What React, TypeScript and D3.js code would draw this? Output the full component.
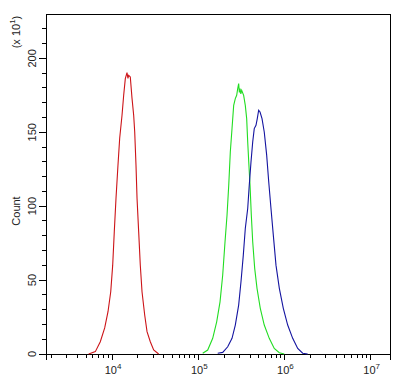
import * as d3 from 'd3';

// intensity / count pairs (count in units of 10)
const redSeries: [number, number][] = [
	[5360, 0], [6400, 1.6], [7310, 8.3], [8220, 17.6], [8980, 28.6], [9660, 42.1],
	[10180, 60.1], [10620, 82.6], [11120, 105.4], [11720, 127.7], [12270, 146],
	[13060, 161.5], [13650, 175], [14260, 186.3], [14920, 190.3], [15300, 186.5],
	[15600, 188.5], [16290, 187.4], [17060, 172.9], [17830, 161.5], [18330, 150.2],
	[18970, 127.7], [19500, 105.4], [20380, 82.6], [21280, 60.1], [22280, 42.1],
	[23930, 26.4], [25470, 15.1], [27800, 8.3], [30410, 2.7], [34750, 0],
];
const greenSeries: [number, number][] = [
	[112700, 0.5], [128800, 2.7], [147200, 10.6], [163700, 21.8], [179000, 35.3],
	[192300, 53.4], [204600, 75.9], [215800, 93.9], [225900, 114.2], [235600, 136.7],
	[246600, 152.5], [257800, 168.2], [269200, 172.8], [279300, 175], [287100, 179.5],
	[294500, 182.9], [300000, 177], [305500, 179.5], [312000, 176], [319300, 178.4],
	[336500, 175], [351600, 168.2], [364800, 159.2], [375000, 143.4], [385500, 129.9],
	[399000, 114.2], [413000, 93.9], [428500, 75.9], [451900, 57.9], [480800, 44.4],
	[524800, 30.9], [583400, 19.6], [666800, 10.6], [762100, 3.8], [872700, 0.9], [995400, 0],
];
const blueSeries: [number, number][] = [
	[168300, 0.5], [192300, 1.1], [219800, 4.9], [246600, 10.6], [269200, 19.6],
	[294500, 33.1], [313300, 48.9], [333400, 66.9], [351600, 84.9], [375000, 98.4],
	[390800, 114.2], [409300, 129.9], [428500, 143.4], [446700, 152.5], [467700, 154.7],
	[484200, 159.2], [502300, 164.9], [521200, 163.7], [549500, 159.2], [583400, 150.2],
	[622300, 134.5], [657700, 116.4], [698200, 98.4], [743000, 80.4], [798000, 60.1],
	[872700, 44.4], [970500, 30.9], [1091000, 19.6], [1247000, 10.6], [1426000, 3.8],
	[1629000, 0.5], [1862000, 0],
];
const seriesColors = ['#cc1418', '#22dd22', '#1414a0'];

const xDomain = [1714, 16777216];
const xDecades = [4, 5, 6, 7];
const yDomain = [0, 230];
const yMajorTicks = [0, 50, 100, 150, 200];
const yTitle = 'Count';

const font = '"Liberation Sans", Arial, sans-serif';
const textColor = '#222';

export default function App() {
	const left = 46;
	const right = 390;
	const top = 14;
	const bottom = 354;

	const x = d3.scaleLog().domain(xDomain).range([left, right]);
	const y = d3.scaleLinear().domain(yDomain).range([bottom, top]);

	const line = d3
		.line<[number, number]>()
		.x(d => x(d[0]))
		.y(d => y(d[1]));

	const xMinor: number[] = [];
	for (let d = 3; d <= 7; d++) {
		for (let m = 2; m <= 9; m++) {
			const v = m * Math.pow(10, d);
			if (v > xDomain[0] && v < xDomain[1]) xMinor.push(v);
		}
	}
	const yMinor = d3.range(10, 230, 10).filter(v => !yMajorTicks.includes(v));

	return (
		<svg
			width={406}
			height={384}
			style={{ position: 'absolute', left: 0, top: 0, background: '#fff' }}
			fontFamily={font}
		>
			<rect x={0} y={0} width={406} height={384} fill="#fff" />
			{/* frame */}
			<g stroke="#000" strokeWidth={1} shapeRendering="crispEdges">
				<line x1={left} x2={right} y1={top} y2={top} />
				<line x1={left} x2={left} y1={top} y2={bottom + 6} />
				<line x1={right} x2={right} y1={top} y2={bottom + 6} />
				<line x1={left} x2={right} y1={bottom} y2={bottom} />
				{xMinor.map(v => (
					<line key={'xm' + v} x1={x(v)} x2={x(v)} y1={bottom} y2={bottom + 4} />
				))}
				{xDecades.map(d => (
					<line key={'xM' + d} x1={x(Math.pow(10, d))} x2={x(Math.pow(10, d))} y1={bottom} y2={bottom + 6} />
				))}
				{yMinor.map(v => (
					<line key={'ym' + v} x1={left - 4} x2={left} y1={y(v)} y2={y(v)} />
				))}
				{yMajorTicks.map(v => (
					<line key={'yM' + v} x1={left - 7} x2={left} y1={y(v)} y2={y(v)} />
				))}
			</g>

			{/* x labels */}
			{xDecades.map(d => (
				<text
					key={'xl' + d}
					x={x(Math.pow(10, d)) + 1}
					y={374}
					fontSize={11}
					fill={textColor}
					textAnchor="middle"
				>
					10
					<tspan fontSize={8} dy={-5}>
						{d}
					</tspan>
				</text>
			))}

			{/* y labels */}
			{yMajorTicks.map(v => (
				<text
					key={'yl' + v}
					transform={`translate(36, ${y(v)}) rotate(-90)`}
					fontSize={11}
					fill={textColor}
					textAnchor="middle"
				>
					{v}
				</text>
			))}
			<text transform={`translate(20, 211) rotate(-90)`} fontSize={11} fill={textColor} textAnchor="middle">
				{yTitle}
			</text>
			<text transform={`translate(20, 32) rotate(-90)`} fontSize={11} fill={textColor} textAnchor="middle">
				(x 10
				<tspan fontSize={8} dy={-5}>
					1
				</tspan>
				<tspan dy={5}>)</tspan>
			</text>

			{/* histograms */}
			{[redSeries, greenSeries, blueSeries].map((s, i) => (
				<path key={i} d={line(s) ?? ''} fill="none" stroke={seriesColors[i]} strokeWidth={1.1} />
			))}
		</svg>
	);
}
